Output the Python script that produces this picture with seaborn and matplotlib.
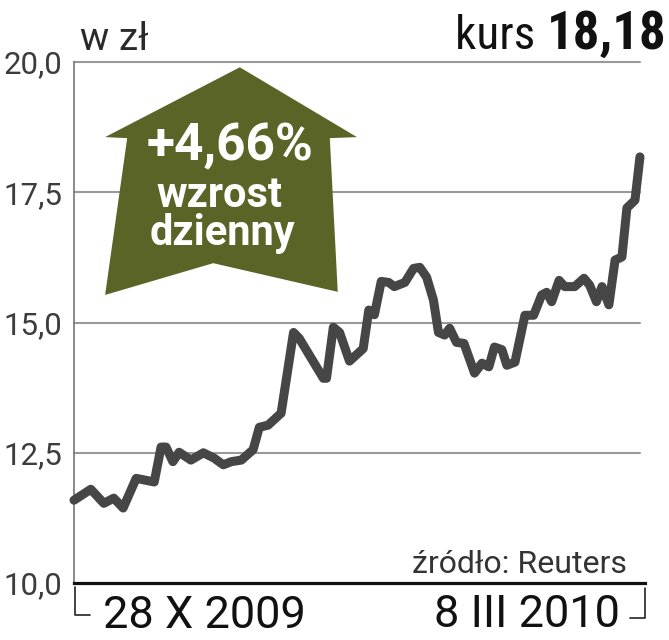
import matplotlib
matplotlib.use("Agg")
import matplotlib.pyplot as plt
import seaborn as sns
import pandas as pd
from matplotlib.patches import Polygon

# Trading days since 28 X 2009 and closing price (PLN)
days = [0, 2.7, 4.8, 6.4, 7.9, 10.0, 12.9, 14.0, 14.8, 15.9, 16.9, 18.8, 20.8, 22.5,
        24.0, 25.3, 26.9, 28.8, 29.8, 31.2, 33.3, 35.3, 36.2, 40.1, 40.6, 41.7, 42.7,
        44.3, 46.5, 47.4, 48.3, 49.4, 50.6, 51.5, 53.2, 54.6, 55.6, 56.7, 57.8, 58.6,
        59.6, 60.4, 61.5, 62.7, 64.4, 65.6, 66.7, 67.6, 68.8, 69.6, 70.9, 72.5, 73.9,
        75.2, 76.0, 76.8, 78.0, 78.9, 80.5, 82.0, 82.9, 84.0, 84.9, 86.0, 87.0, 88.1,
        88.9, 90.2, 91.0]
prices = [11.59, 11.80, 11.53, 11.63, 11.44, 12.01, 11.94, 12.61, 12.61, 12.33, 12.51,
          12.36, 12.50, 12.40, 12.27, 12.33, 12.36, 12.56, 12.99, 13.03, 13.26, 14.81,
          14.70, 13.93, 13.93, 14.91, 14.81, 14.26, 14.50, 15.24, 15.15, 15.79, 15.77,
          15.69, 15.77, 16.04, 16.06, 15.87, 15.43, 14.81, 14.76, 14.89, 14.62, 14.60,
          14.03, 14.22, 14.15, 14.53, 14.48, 14.18, 14.24, 15.14, 15.14, 15.53, 15.58,
          15.40, 15.81, 15.69, 15.69, 15.85, 15.72, 15.40, 15.69, 15.34, 16.20, 16.26,
          17.20, 17.35, 18.18]

y_ticks = [10.0, 12.5, 15.0, 17.5, 20.0]
y_tick_labels = ["10,0", "12,5", "15,0", "17,5", "20,0"]
start_label = "28 X 2009"
end_label = "8 III 2010"
last_price = "18,18"
change_label = "+4,66%"

df = pd.DataFrame({"day": days, "price": prices})

sns.set_style("white")
plt.rcParams["font.family"] = ["Roboto", "DejaVu Sans"]
COND = ["Roboto Condensed", "Roboto", "DejaVu Sans"]

fig = plt.figure(figsize=(6.69, 6.40), dpi=100)
ax = fig.add_axes([0.1106, 0.089, 0.846, 0.814])

# grid lines
for t in y_ticks[1:]:
    ax.axhline(t, color="#9a9a9a", lw=1.5, zorder=1)

sns.lineplot(data=df, x="day", y="price", ax=ax, color="#464646", lw=6.5,
             solid_capstyle="round", solid_joinstyle="round", zorder=3)
for ln in ax.lines:
    ln.set_clip_on(False)

ax.set_xlim(0, 91)
ax.set_ylim(10, 20)
ax.set_yticks(y_ticks)
ax.set_yticklabels(y_tick_labels, fontsize=22.5, color="#3c3c3c")
ax.set_xticks([])
ax.tick_params(axis="y", length=0, pad=8.5)
ax.set_xlabel("")
ax.set_ylabel("")

for s in ["top", "right"]:
    ax.spines[s].set_visible(False)
ax.spines["left"].set_color("#777777")
ax.spines["left"].set_linewidth(1.2)
ax.spines["bottom"].set_color("#111111")
ax.spines["bottom"].set_linewidth(2.3)
ax.spines["bottom"].set_bounds(0, 91.8)

# growth arrow
arrow = Polygon([(0.293, 0.990), (0.500, 0.856), (0.452, 0.854), (0.466, 0.559),
                 (0.246, 0.614), (0.055, 0.553), (0.094, 0.854), (0.055, 0.856)],
                closed=True, transform=ax.transAxes, facecolor="#5a6426",
                edgecolor="none", zorder=4)
ax.add_patch(arrow)
ax.text(0.276, 0.812, change_label, transform=ax.transAxes, ha="center", va="baseline",
        color="white", fontsize=37, fontweight="bold", zorder=5)
ax.text(0.257, 0.722, "wzrost", transform=ax.transAxes, ha="center", va="baseline",
        color="white", fontsize=30, fontweight="bold", zorder=5)
ax.text(0.262, 0.649, "dzienny", transform=ax.transAxes, ha="center", va="baseline",
        color="white", fontsize=30, fontweight="bold", zorder=5)

# header
fig.text(0.120, 0.922, "w zł", ha="left", va="baseline", fontsize=28,
         color="#2a2a2a")
fig.text(0.817, 0.923, "kurs ", ha="right", va="baseline", fontsize=34,
         family=COND, color="#111111")
fig.text(0.817, 0.923, last_price, ha="left", va="baseline", fontsize=38,
         family=COND, fontweight="bold", color="#111111")

# source
fig.text(0.937, 0.105, "źródło: Reuters", ha="right", va="baseline", fontsize=23,
         color="#333333")

# date bracket
fig.add_artist(plt.Line2D([0.112, 0.112, 0.1345], [0.083, 0.039, 0.039],
                          color="#222222", lw=1.2))
fig.add_artist(plt.Line2D([0.964, 0.964, 0.942], [0.081, 0.034, 0.034],
                          color="#222222", lw=1.2))
fig.text(0.154, 0.019, start_label, ha="left", va="baseline", fontsize=32.5, color="#111111")
fig.text(0.927, 0.020, end_label, ha="right", va="baseline", fontsize=32.5, color="#111111")

fig.savefig("out.png", dpi=100)
